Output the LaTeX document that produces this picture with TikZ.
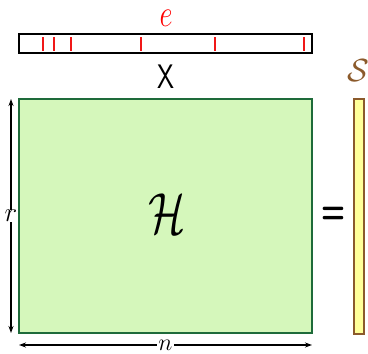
\RequirePackage{fix-cm}
\documentclass[tikz,border=0pt]{standalone}
\usepackage{graphicx}
\usetikzlibrary{arrows.meta}
\definecolor{hfill}{HTML}{D5F7BB}
\definecolor{hdraw}{HTML}{1E6B3A}
\definecolor{sfill}{HTML}{FFFF99}
\definecolor{sdraw}{HTML}{8B5A2B}
\definecolor{tickred}{HTML}{F01818}
\tikzset{
  box/.style={draw, rectangle, inner sep=0pt, outer sep=0pt},
  lab/.style={inner sep=0pt, outer sep=0pt},
  tickmark/.style={tickred, line width=1.2pt},
  dimarrow/.style={line width=1.4pt, {Stealth[length=7pt,width=5pt]}-{Stealth[length=7pt,width=5pt]}},
  dimlabel/.style={fill=white, inner xsep=1pt, inner ysep=0pt, font=\fontsize{27}{28}\selectfont}
}
\begin{document}
\begin{tikzpicture}[x=1pt,y=-1pt]
\useasboundingbox (0,0) rectangle (368,354);
% error vector
\node[box, line width=1.5pt, minimum width=293pt, minimum height=19pt] (e) at (165.5,43.5) {};
\foreach \xx in {43,54,71,141,215,304} \draw[tickmark] (\xx,37) -- (\xx,51);
\node[lab, red, font=\fontsize{38}{40}\selectfont] (elab) at (166,18) {\scalebox{0.75}[1]{$e$}};
\node[lab, font=\sffamily\fontsize{34}{36}\selectfont] (times) at (166,77) {\scalebox{0.8}[1]{X}};
% parity check matrix
\node[box, draw=hdraw, fill=hfill, line width=2pt, minimum width=293pt, minimum height=234pt] (H) at (165.5,216) {};
\node[lab, font=\fontsize{58}{60}\selectfont] (Hlab) at (167,214) {\scalebox{0.75}[1]{$\mathcal{H}$}};
\draw[dimarrow] ([xshift=-8pt]H.north west) -- node[dimlabel] (r) {$r$} ([xshift=-8pt]H.south west);
\draw[dimarrow] ([yshift=-12pt]H.south west) -- node[dimlabel, font=\fontsize{24}{25}\selectfont] (n) {$n$} ([yshift=-12pt]H.south east);
% equals
\node[lab, font=\sffamily\bfseries\fontsize{40}{42}\selectfont] (eq) at (333,215) {\scalebox{0.7}[1]{=}};
% syndrome
\node[box, draw=sdraw, fill=sfill, line width=1.6pt, minimum width=10pt, minimum height=235pt] (S) at (359,216.5) {};
\node[lab, sdraw, font=\fontsize{32}{34}\selectfont] (Slab) at (358,71) {$\mathcal{S}$};
\end{tikzpicture}
\end{document}
